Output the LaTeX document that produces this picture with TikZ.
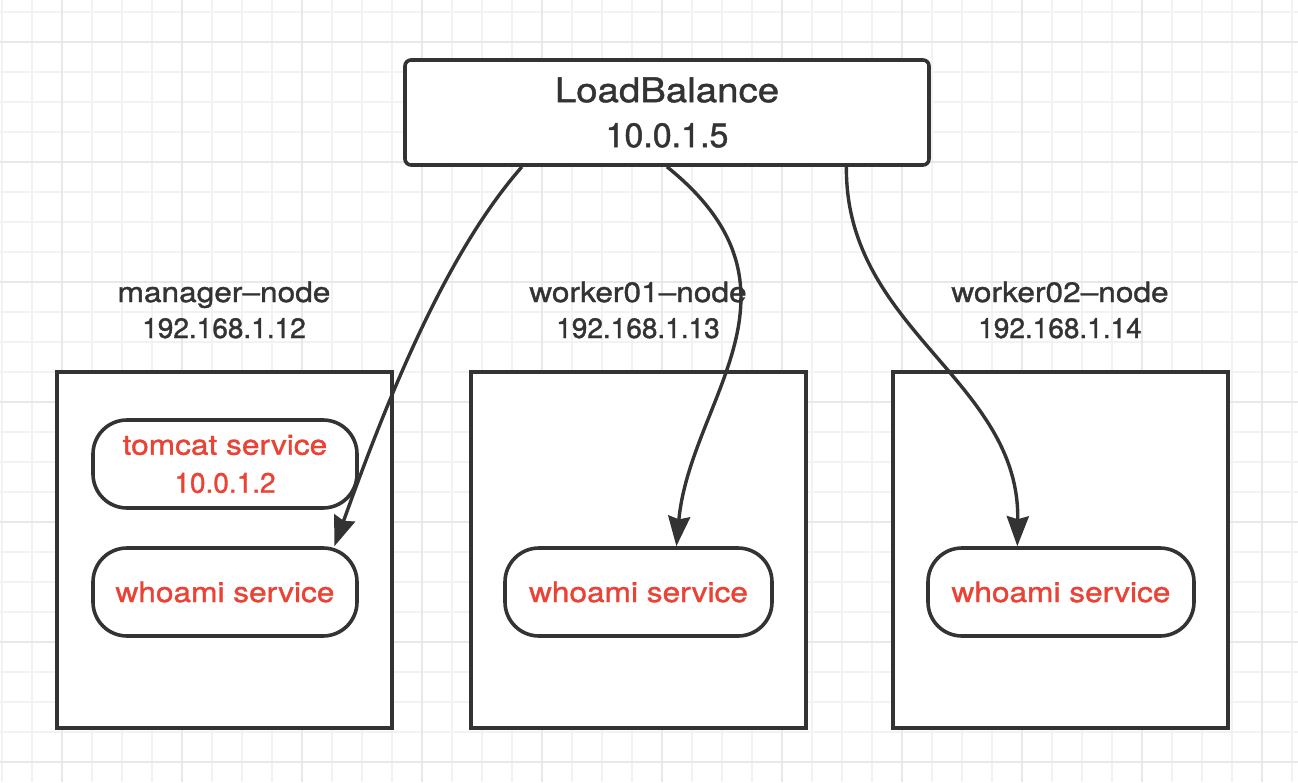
\documentclass[tikz,border=0pt]{standalone}
\usepackage{fontspec}
\setmainfont{TeX Gyre Heros}
\newfontfamily\lettf[FakeStretch=1.13,FakeBold=1.2]{TeX Gyre Heros}
\newfontfamily\digf[FakeBold=1.2]{TeX Gyre Heros}
\usetikzlibrary{arrows.meta,calc}
\definecolor{ink}{HTML}{333333}
\definecolor{redtxt}{HTML}{EA4336}
\definecolor{gridminor}{HTML}{F2F2F2}
\definecolor{gridmajor}{HTML}{E8E8E8}
\tikzset{
  hostbox/.style={draw=ink, line width=3.6pt, fill=white, minimum width=335pt, minimum height=356pt, inner sep=0pt},
  svc/.style={draw=ink, line width=3.6pt, fill=white, rounded corners=34pt, minimum height=88pt, inner sep=0pt, text=redtxt, align=center, font=\fontsize{28}{38}\selectfont},
  lbbox/.style={draw=ink, line width=3.6pt, fill=white, rounded corners=6pt, minimum width=524pt, minimum height=105pt, inner sep=0pt, text=ink, align=center, font=\fontsize{34}{45}\selectfont},
  hostlabel/.style={text=ink, align=center, font=\fontsize{28}{36}\selectfont, inner sep=0pt},
  flow/.style={draw=ink, line width=3.4pt, -{Stealth[length=30pt,width=22pt,inset=3pt]}},
  gminor/.style={draw=gridminor, line width=1.6pt},
  gmajor/.style={draw=gridmajor, line width=1.6pt},
}
\begin{document}
\begin{tikzpicture}[x=1pt, y=-1pt]
\useasboundingbox (0,0) rectangle (1298,782);
\fill[white] (0,0) rectangle (1298,782);
% grid
\foreach \x in {2,32,...,1292} \draw[gminor] (\x,0) -- (\x,782);
\foreach \y in {12,42,...,772} \draw[gminor] (0,\y) -- (1298,\y);
\foreach \x in {62,182,...,1262} \draw[gmajor] (\x,0) -- (\x,782);
\foreach \y in {42,162,...,762} \draw[gmajor] (0,\y) -- (1298,\y);

% host boxes
\node[hostbox] (mgr) at (224.5,550) {};
\node[hostbox] (w1) at (638.5,550) {};
\node[hostbox] (w2) at (1060.5,550) {};

% host labels
\node[hostlabel] (mgrlbl) at (224,310) {{\lettf manager–node}\\{\digf 192.168.1.12}};
\node[hostlabel] (w1lbl) at (638,310) {{\lettf worker01–node}\\{\digf 192.168.1.13}};
\node[hostlabel] (w2lbl) at (1060,310) {{\lettf worker02–node}\\{\digf 192.168.1.14}};

% services
\node[svc, minimum width=264pt] (tc) at (225,464) {{\lettf tomcat service}\\{\digf 10.0.1.2}};
\node[svc, minimum width=264pt] (wm) at (225,592) {\lettf whoami service};
\node[svc, minimum width=267pt] (ww1) at (638.5,592) {\lettf whoami service};
\node[svc, minimum width=266pt] (ww2) at (1061,592) {\lettf whoami service};

% load balancer
\node[lbbox] (lb) at (667,112.5) {{\lettf LoadBalance}\\{\digf 10.0.1.5}};

% connectors
\coordinate (s1) at ($(lb.south west)!0.225!(lb.south east)$);
\coordinate (s2) at ($(lb.south west)!0.5!(lb.south east)$);
\coordinate (s3) at ($(lb.south west)!0.84!(lb.south east)$);
\coordinate (e1) at ($(wm.north west)!0.909!(wm.north east)$);
\coordinate (e2) at ($(ww1.north west)!0.64!(ww1.north east)$);
\coordinate (e3) at ($(ww2.north west)!0.338!(ww2.north east)$);
\draw[flow] (s1) .. controls (440,260) and (380,420) .. (e1);
\draw[flow] (s2) .. controls (820,290) and (690,400) .. (e2);
\draw[flow] (s3) .. controls (845,330) and (1020,380) .. (e3);
\end{tikzpicture}
\end{document}
